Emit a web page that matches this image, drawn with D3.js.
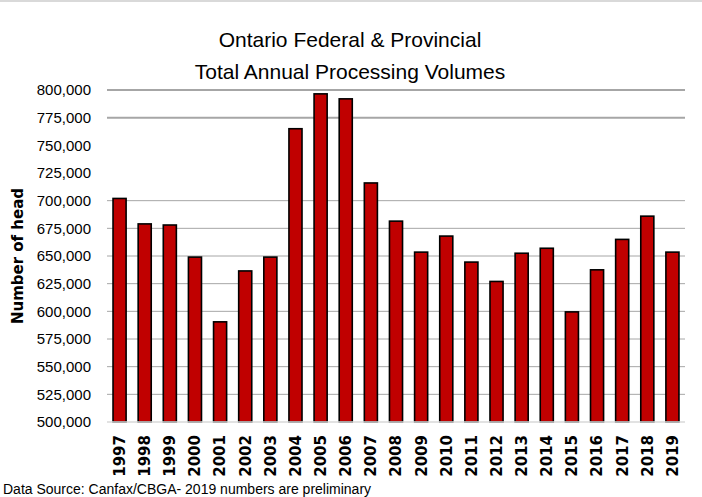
<!DOCTYPE html>
<html>
<head>
<meta charset="utf-8">
<script src="https://cdn.jsdelivr.net/npm/d3@7"></script>
<style>
  body { margin: 0; background: #fff; }
  svg { display: block; }
</style>
</head>
<body>
<div id="chart"></div>
<script>
// values
var years = ["1997", "1998", "1999", "2000", "2001", "2002", "2003", "2004", "2005", "2006", "2007", "2008",
  "2009", "2010", "2011", "2012", "2013", "2014", "2015", "2016", "2017", "2018", "2019"];
var volumes = [702000, 679000, 678000, 649000, 590500, 636500, 649000, 765000, 796500, 792000, 716000, 681500,
  653500, 668000, 644500, 627000, 652500, 657000, 599500, 637500, 665000, 686000, 653500];
var yTicks = [500000, 525000, 550000, 575000, 600000, 625000, 650000, 675000, 700000, 725000, 750000, 775000, 800000];
// gridlines that show in the reference (750k and 725k are missing there)
var gridTicks = [525000, 550000, 575000, 600000, 625000, 650000, 675000, 700000, 775000, 800000];

var svgWidth = 702;
var svgHeight = 497;
var margin = { top: 90, right: 17, bottom: 75, left: 107 };
var width = svgWidth - margin.left - margin.right;
var height = svgHeight - margin.top - margin.bottom;

var svg = d3.select("#chart")
  .append("svg")
  .attr("width", svgWidth)
  .attr("height", svgHeight);

// thin border line along the top
svg.append("line")
  .attr("x1", 0).attr("x2", svgWidth)
  .attr("y1", 1).attr("y2", 1)
  .attr("stroke", "#d9d9d9")
  .attr("stroke-width", 2);

var chartGroup = svg.append("g")
  .attr("transform", `translate(${margin.left}, ${margin.top})`);

var x = d3.scaleBand()
  .domain(years)
  .range([0, width])
  .paddingInner(0.48)
  .paddingOuter(0.24);

var y = d3.scaleLinear()
  .domain([500000, 800000])
  .range([height, 0]);

// gridlines
chartGroup.selectAll(".grid")
  .data(gridTicks)
  .enter()
  .append("line")
  .attr("class", "grid")
  .attr("x1", 0)
  .attr("x2", width)
  .attr("y1", d => y(d))
  .attr("y2", d => y(d))
  .attr("stroke", "#a6a6a6")
  .attr("stroke-width", d => d >= 775000 ? 2 : 1);

// y axis labels
var leftAxis = d3.axisLeft(y)
  .tickValues(yTicks)
  .tickSize(0)
  .tickPadding(16)
  .tickFormat(d3.format(","));

var yAxisG = chartGroup.append("g").call(leftAxis);
yAxisG.select(".domain").remove();
yAxisG.selectAll("text")
  .attr("font-family", "'Liberation Sans', Arial, sans-serif")
  .attr("font-size", "15px")
  .attr("fill", "#000");

// bars
chartGroup.selectAll(".bar")
  .data(volumes)
  .enter()
  .append("rect")
  .attr("class", "bar")
  .attr("x", (d, i) => x(years[i]))
  .attr("y", d => y(d))
  .attr("width", x.bandwidth())
  .attr("height", d => height - y(d))
  .attr("fill", "#c00000")
  .attr("stroke", "#000")
  .attr("stroke-width", 1.6);

// x axis line
chartGroup.append("line")
  .attr("x1", 0).attr("x2", width)
  .attr("y1", height).attr("y2", height)
  .attr("stroke", "#d9d9d9")
  .attr("stroke-width", 1.5);

// x axis labels (rotated)
var bottomAxis = d3.axisBottom(x).tickSize(0);
var xAxisG = chartGroup.append("g")
  .attr("transform", `translate(0, ${height})`)
  .call(bottomAxis);
xAxisG.select(".domain").remove();
xAxisG.selectAll("text")
  .attr("font-family", "'DejaVu Sans', sans-serif")
  .attr("font-weight", "bold")
  .attr("font-size", "15px")
  .attr("fill", "#000")
  .attr("text-anchor", "end")
  .attr("transform", "rotate(-90)")
  .attr("x", -13)
  .attr("y", 0)
  .attr("dy", "0.36em");

// title
svg.append("text")
  .attr("x", 350)
  .attr("y", 47)
  .attr("text-anchor", "middle")
  .attr("font-family", "'Liberation Sans', Arial, sans-serif")
  .attr("font-size", "21px")
  .text("Ontario Federal & Provincial");

svg.append("text")
  .attr("x", 350)
  .attr("y", 79)
  .attr("text-anchor", "middle")
  .attr("font-family", "'Liberation Sans', Arial, sans-serif")
  .attr("font-size", "21px")
  .text("Total Annual Processing Volumes");

// y axis title
svg.append("text")
  .attr("transform", "rotate(-90)")
  .attr("x", -256)
  .attr("y", 18)
  .attr("dy", "0.36em")
  .attr("text-anchor", "middle")
  .attr("font-family", "'DejaVu Sans', sans-serif")
  .attr("font-weight", "bold")
  .attr("font-size", "15px")
  .text("Number of head");

// source note along the bottom edge
svg.append("text")
  .attr("x", 3)
  .attr("y", 494)
  .attr("font-family", "'Liberation Sans', Arial, sans-serif")
  .attr("font-size", "14px")
  .text("Data Source: Canfax/CBGA- 2019 numbers are preliminary");
</script>
</body>
</html>
